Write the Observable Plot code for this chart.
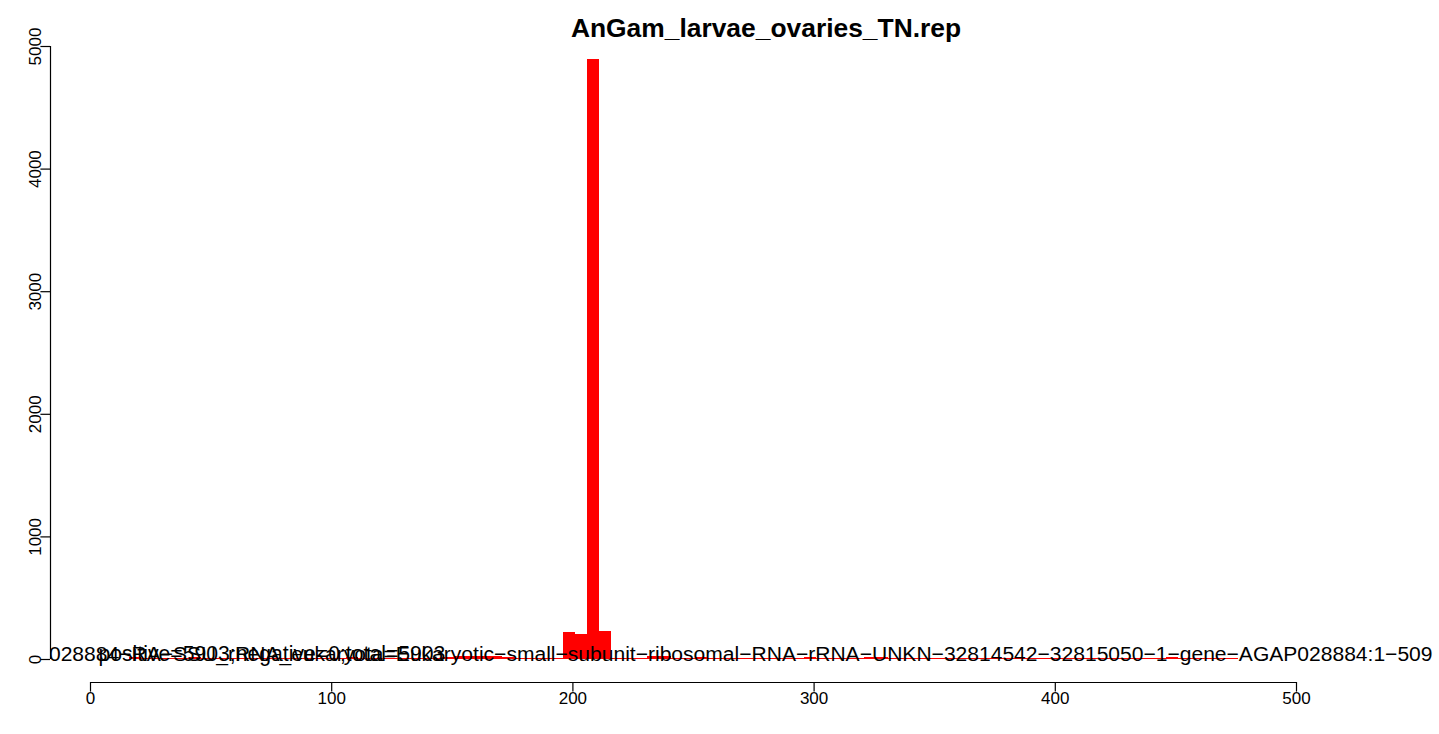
<!DOCTYPE html>
<html>
<head>
<meta charset="utf-8">
<script src="https://cdn.jsdelivr.net/npm/d3@7"></script>
<script src="https://cdn.jsdelivr.net/npm/@observablehq/plot@0.6"></script>
<style>
  html, body { margin: 0; padding: 0; background: #ffffff; }
  body { font-family: "Liberation Sans", Arial, Helvetica, sans-serif; width: 1439px; height: 734px; overflow: hidden; }
  #title { position: relative; height: 30px; }
  #title span { position: absolute; left: 0; width: 1532px; top: 15px; line-height: 26px; text-align: center; font-weight: bold; font-size: 26.4px; color: #000; white-space: nowrap; }
  #chart svg { overflow: visible; display: block; }
</style>
</head>
<body>
<div id="title"><span>AnGam_larvae_ovaries_TN.rep</span></div>
<div id="chart"></div>
<script>
// ---- data ----
// start position of each 5-nt bin that has reads
const binStart = [16, 21, 26, 31, 36, 41, 46, 51, 56, 61, 66, 71, 76, 81, 86, 91, 96, 101, 106, 111, 116, 121, 126, 131, 136, 141, 146, 151, 156, 161, 166, 171, 176, 181, 186, 191, 196, 201, 206, 211, 216, 221, 226, 231, 236, 241, 246, 251, 256, 261, 266, 271, 276, 281, 286, 291, 296, 301, 306, 311, 316, 321, 326, 331, 336, 341, 346, 351, 356, 361, 366, 371, 376, 381, 386, 391, 396, 401, 406, 411, 416, 421, 426, 431, 436, 441, 446, 451, 456, 461, 466, 471];
// read count in each bin
const binCount = [15, 7, 7, 7, 7, 20, 7, 7, 7, 7, 7, 7, 7, 7, 7, 7, 7, 7, 20, 7, 7, 7, 7, 7, 7, 7, 20, 25, 25, 25, 25, 20, 7, 7, 7, 7, 218, 201, 4890, 231, 7, 7, 7, 25, 25, 7, 7, 20, 7, 7, 7, 7, 7, 7, 7, 7, 15, 7, 7, 7, 7, 15, 15, 7, 7, 7, 7, 7, 7, 7, 7, 7, 7, 7, 7, 7, 7, 7, 7, 7, 7, 7, 7, 7, 7, 7, 15, 7, 7, 7, 7, 7];
const binWidth = 5;
const xTicks = [0, 100, 200, 300, 400, 500];
const yTicks = [0, 1000, 2000, 3000, 4000, 5000];
const featureLabel = "028884\u2212RA\u2212SSU_rRNA_eukaryota=Eukaryotic\u2212small\u2212subunit\u2212ribosomal\u2212RNA\u2212rRNA\u2212UNKN\u221232814542\u221232815050\u22121\u2212gene\u2212AGAP028884:1\u2212509";
const statsLabel = "positive=5903;negative=0;total=5903";

const bins = binStart.map((s, i) => ({start: s, end: s + binWidth, count: binCount[i]}));

const chart = Plot.plot({
  width: 1439,
  height: 704,
  marginLeft: 50,
  marginRight: 0,
  marginTop: 0,
  marginBottom: 52,
  style: {fontFamily: "'Liberation Sans', Arial, Helvetica, sans-serif", fontSize: "17px", color: "#000", background: "#fff", overflow: "visible"},
  x: {domain: [0, 500], range: [90, 1296]},
  y: {domain: [0, 5000], range: [629, 16]},
  marks: [
    Plot.rectY(bins, {x1: "start", x2: "end", y: "count", fill: "#ff0000", shapeRendering: "crispEdges"}),
    Plot.text([featureLabel], {x: 556.4, y: 0, text: d => d, textAnchor: "end", lineAnchor: "bottom", dy: 1, fontSize: 21.05, fill: "#000", clip: true}),
    Plot.text([statsLabel], {x: 3.3, y: 0, text: d => d, textAnchor: "start", lineAnchor: "bottom", dy: 1, fontSize: 21.2, fill: "#000", clip: true}),
    Plot.ruleX([0], {y1: 0, y2: 5000, dx: -40, stroke: "#000", strokeWidth: 1.2}),
    Plot.axisY({ticks: yTicks, anchor: "left", tickSize: 9.6, tickPadding: 0, tickRotate: -90, tickFormat: d => String(d), fontSize: 17, label: null, strokeWidth: 1.2}),
    Plot.ruleY([0], {x1: 0, x2: 500, dy: 23, stroke: "#000", strokeWidth: 1.2}),
    Plot.axisX({ticks: xTicks, anchor: "bottom", tickSize: 9.6, tickPadding: 0, tickFormat: d => String(d), fontSize: 17, label: null, strokeWidth: 1.2})
  ]
});
document.getElementById("chart").appendChild(chart);
</script>
</body>
</html>
